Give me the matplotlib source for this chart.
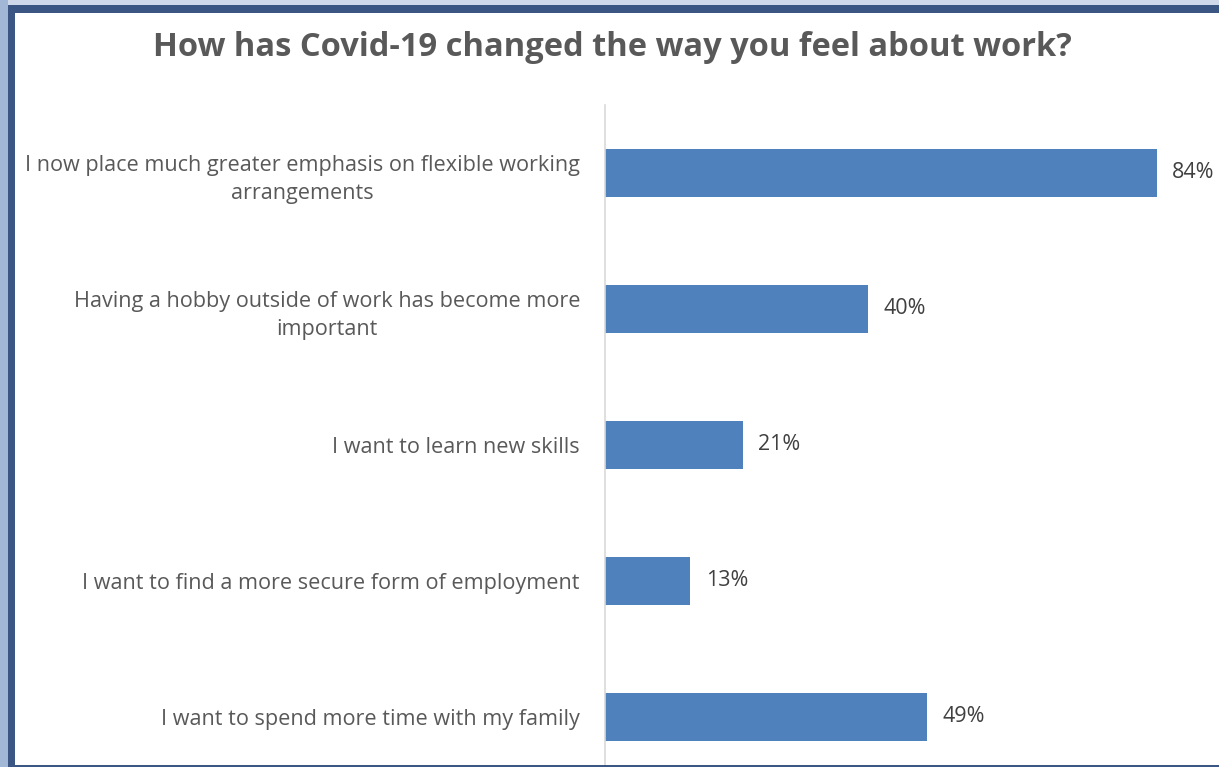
import matplotlib
matplotlib.use("Agg")
import matplotlib.pyplot as plt
from matplotlib.patches import Rectangle

categories = [
    "I now place much greater emphasis on flexible working\narrangements",
    "Having a hobby outside of work has become more\nimportant",
    "I want to learn new skills",
    "I want to find a more secure form of employment",
    "I want to spend more time with my family",
]
values = [84, 40, 21, 13, 49]
value_labels = ["84%", "40%", "21%", "13%", "49%"]
title = "How has Covid-19 changed the way you feel about work?"

W, H = 1219, 767
fig = plt.figure(figsize=(W / 100, H / 100), dpi=100)
fig.patch.set_facecolor("white")

def px_rect(x0, y0, x1, y1, color):
    fig.patches.append(Rectangle((x0 / W, 1 - y1 / H), (x1 - x0) / W, (y1 - y0) / H,
                                 transform=fig.transFigure, facecolor=color,
                                 edgecolor="none", zorder=0))

# window frame
px_rect(0, 0, W, 5, "#cfd9e9")
px_rect(0, 0, 8, H, "#a2b6d6")
px_rect(8, 5, W, 13, "#3b5682")
px_rect(8, 5, 15, H, "#3b5682")
px_rect(8, 765, W, H, "#3b5682")

# plot area in pixel terms: left 605, band height 136, top 105
left, top, band = 605, 105, 136
ax_h = band * len(categories)
ax_w = 657
ax = fig.add_axes([left / W, 1 - (top + ax_h) / H, ax_w / W, ax_h / H])
ax.set_facecolor("none")

ypos = list(range(len(categories)))
ax.barh(ypos, values, height=48 / band, color="#4f81bd", zorder=2)
ax.set_ylim(len(categories) - 0.5, -0.5)
ax.set_xlim(0, 100)

for y, v, lab in zip(ypos, values, value_labels):
    ax.annotate(lab, (v, y), xytext=(11, 0), textcoords="offset points",
                va="center", ha="left", fontsize=15.5, color="#404040",
                family="Open Sans")

ax.set_yticks(ypos)
ax.set_yticklabels(categories, fontsize=15.6, color="#595959", family="Open Sans",
                   multialignment="center", linespacing=1.45)
ax.tick_params(axis="y", length=0, pad=18)
ax.set_xticks([])
for s in ["top", "right", "bottom"]:
    ax.spines[s].set_visible(False)
ax.spines["left"].set_color("#d9d9d9")
ax.spines["left"].set_linewidth(1.2)

fig.text(612 / W, 1 - 47 / H, title, ha="center", va="center", fontsize=23.5,
         fontweight="bold", color="#595959", family="Open Sans")

fig.savefig("out.png", dpi=100)
